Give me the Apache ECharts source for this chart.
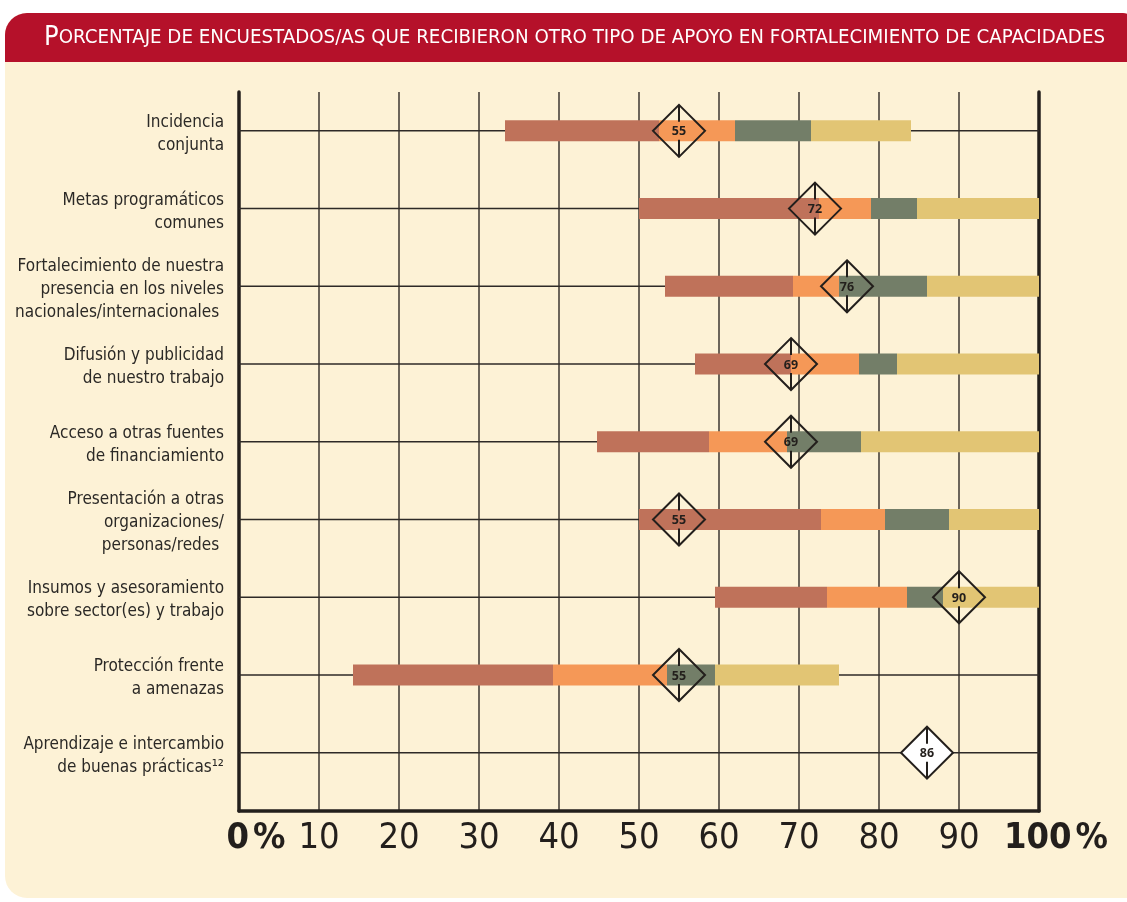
<!DOCTYPE html>
<html>
<head>
<meta charset="utf-8">
<script src="https://cdn.jsdelivr.net/npm/echarts@6/dist/echarts.min.js"></script>
<style>
  html, body { margin: 0; padding: 0; background: #fff; }
  #main { width: 1127px; height: 902px; }
</style>
</head>
<body>
<div id="main"></div>
<script>
// datos
var categories = [
    'Incidencia\nconjunta',
    'Metas programáticos\ncomunes',
    'Fortalecimiento de nuestra\npresencia en los niveles\nnacionales/internacionales ',
    'Difusión y publicidad\nde nuestro trabajo',
    'Acceso a otras fuentes\nde financiamiento',
    'Presentación a otras\norganizaciones/\npersonas/redes ',
    'Insumos y asesoramiento\nsobre sector(es) y trabajo',
    'Protección frente\na amenazas',
    'Aprendizaje e intercambio\nde buenas prácticas¹²'
];
var offsetStart = [33.25, 50, 53.25, 57, 44.75, 50, 59.5, 14.25, null];
var brownPart  = [19.25, 22.5, 16, 12, 14, 22.75, 14, 25, null];
var orangePart = [9.5, 6.5, 5.75, 8.5, 9.75, 8, 10, 14.25, null];
var greenPart  = [9.5, 5.75, 11, 4.75, 9.25, 8, 4.5, 6, null];
var yellowPart = [12.5, 15.25, 14, 17.75, 22.25, 11.25, 12, 15.5, null];
var diamondValue = [55, 72, 76, 69, 69, 55, 90, 55, 86];
var xTicks = [0, 10, 20, 30, 40, 50, 60, 70, 80, 90, 100];

var FONT = "'Liberation Sans Narrow', 'DejaVu Sans Condensed', 'Roboto', sans-serif";
var colors = ['#bf725a', '#f59857', '#737e68', '#e2c574'];
var parts = [brownPart, orangePart, greenPart, yellowPart];

// segmentos [desde, hasta, fila]
var segData = [[], [], [], []];
for (var i = 0; i < categories.length; i++) {
    if (offsetStart[i] == null) continue;
    var acc = offsetStart[i];
    for (var k = 0; k < 4; k++) {
        segData[k].push([acc, acc + parts[k][i], i]);
        acc += parts[k][i];
    }
}

var myChart = echarts.init(document.getElementById('main'));

function barItem(params, api) {
    var a = api.coord([api.value(0), api.value(2)]);
    var b = api.coord([api.value(1), api.value(2)]);
    return {
        type: 'rect',
        shape: { x: a[0], y: a[1] - 10.5, width: b[0] - a[0], height: 21 },
        style: { fill: api.visual('color') }
    };
}

var series = [];

// lineas horizontales de cada fila
series.push({
    type: 'custom',
    name: 'filas',
    z: 1,
    silent: true,
    data: categories.map(function (c, i) { return [0, 100, i]; }),
    encode: { x: [0, 1], y: 2 },
    renderItem: function (params, api) {
        var a = api.coord([0, api.value(2)]);
        var b = api.coord([100, api.value(2)]);
        return {
            type: 'line',
            shape: { x1: a[0], y1: a[1], x2: b[0], y2: b[1] },
            style: { stroke: '#2e2a27', lineWidth: 1.5 }
        };
    }
});

for (var k = 0; k < 4; k++) {
    series.push({
        type: 'custom',
        name: 'seg' + k,
        z: 3,
        silent: true,
        itemStyle: { color: colors[k] },
        data: segData[k],
        encode: { x: [0, 1], y: 2 },
        renderItem: barItem
    });
}

// rombos
series.push({
    type: 'custom',
    name: 'rombos',
    z: 5,
    silent: true,
    data: diamondValue.map(function (v, i) { return [v, i]; }),
    encode: { x: 0, y: 1 },
    renderItem: function (params, api) {
        var p = api.coord([api.value(0), api.value(1)]);
        var h = 26;
        var last = params.dataIndex === diamondValue.length - 1;
        return {
            type: 'group',
            children: [
                {
                    type: 'polygon',
                    shape: { points: [[p[0], p[1] - h], [p[0] + h, p[1]], [p[0], p[1] + h], [p[0] - h, p[1]]] },
                    style: { fill: last ? '#ffffff' : null, stroke: '#231f1c', lineWidth: 2 }
                },
                { type: 'line', shape: { x1: p[0], y1: p[1] - h, x2: p[0], y2: p[1] - 9 }, style: { stroke: '#231f1c', lineWidth: 2 } },
                { type: 'line', shape: { x1: p[0], y1: p[1] + 9, x2: p[0], y2: p[1] + h }, style: { stroke: '#231f1c', lineWidth: 2 } },
                {
                    type: 'text',
                    style: {
                        text: String(api.value(0)), x: p[0], y: p[1] + 1,
                        align: 'center', verticalAlign: 'middle',
                        fontSize: 12.5, fontWeight: 'bold', fontFamily: "'Open Sans', sans-serif", fill: '#231f1c'
                    }
                }
            ]
        };
    }
});

// etiquetas de categorias
series.push({
    type: 'custom',
    name: 'etiquetas',
    z: 5,
    silent: true,
    data: categories.map(function (c, i) { return [0, i]; }),
    encode: { x: 0, y: 1 },
    renderItem: function (params, api) {
        var p = api.coord([0, api.value(1)]);
        return {
            type: 'text',
            style: {
                text: categories[params.dataIndex], x: p[0] - 15, y: p[1] + 3,
                align: 'right', verticalAlign: 'middle',
                fontSize: 17, lineHeight: 23, fontFamily: FONT, fill: '#2b2926'
            }
        };
    }
});

myChart.setOption({
    backgroundColor: '#ffffff',
    animation: false,
    graphic: [
        { type: 'rect', z: -10, silent: true, shape: { x: 5, y: 13, width: 1130, height: 885, r: [22, 12, 0, 22] }, style: { fill: '#fdf2d6' } },
        { type: 'rect', z: -9, silent: true, shape: { x: 5, y: 13, width: 1130, height: 49, r: [22, 12, 0, 0] }, style: { fill: '#b5112a' } },
        {
            type: 'text', z: -8, silent: true, x: 44, y: 38,
            style: {
                text: '{c|P}{s|ORCENTAJE DE ENCUESTADOS/AS QUE RECIBIERON OTRO TIPO DE APOYO EN FORTALECIMIENTO DE CAPACIDADES}',
                verticalAlign: 'middle', fill: '#ffffff',
                rich: {
                    c: { fontSize: 27, fontFamily: FONT, fill: '#ffffff' },
                    s: { fontSize: 20.3, fontFamily: FONT, fill: '#ffffff' }
                }
            }
        }
    ],
    grid: { left: 239, right: 88, top: 92, bottom: 91 },
    xAxis: {
        type: 'value', min: 0, max: 100, interval: 10,
        axisLine: { show: true, onZero: false, lineStyle: { color: '#231f1c', width: 3.5 } },
        axisTick: { show: false },
        splitLine: { show: true, lineStyle: { color: '#3b3631', width: 1.5 } },
        axisLabel: {
            margin: 10, color: '#231f1c', fontSize: 36, fontFamily: FONT,
            formatter: function (v) {
                if (v === 0 || v === 100) return '{sp|}{b|' + v + '}{p|%}';
                return String(v);
            },
            rich: {
                sp: { width: 34 },
                b: { fontSize: 36, fontWeight: 'bold', fontFamily: FONT, color: '#231f1c' },
                p: { fontSize: 36, fontWeight: 'bold', fontFamily: FONT, color: '#231f1c', padding: [0, 0, 0, 4] }
            }
        }
    },
    yAxis: [
        {
            type: 'value', inverse: true, min: -0.5, max: 8.75,
            axisLine: { show: true, lineStyle: { color: '#231f1c', width: 3.5 } },
            axisTick: { show: false }, axisLabel: { show: false }, splitLine: { show: false }
        },
        {
            type: 'value', inverse: true, min: -0.5, max: 8.75, position: 'right',
            axisLine: { show: true, lineStyle: { color: '#231f1c', width: 3.5 } },
            axisTick: { show: false }, axisLabel: { show: false }, splitLine: { show: false }
        }
    ],
    series: series
});
</script>
</body>
</html>
